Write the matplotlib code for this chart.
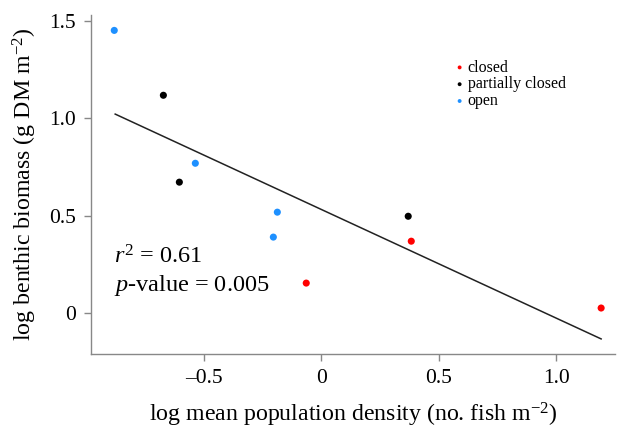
import numpy as np
import matplotlib
matplotlib.use("Agg")
import matplotlib.pyplot as plt

plt.rcParams['font.family'] = ['Liberation Serif', 'DejaVu Serif']
plt.rcParams['mathtext.fontset'] = 'custom'
plt.rcParams['mathtext.rm'] = 'Liberation Serif'
plt.rcParams['mathtext.it'] = 'Liberation Serif:italic'

# data
groups = ['closed', 'partially closed', 'open']
colors = {'closed': '#ff0000', 'partially closed': '#000000', 'open': '#1e90ff'}
x_closed = [-0.064, 0.383, 1.191]
y_closed = [0.154, 0.369, 0.026]
x_partial = [-0.672, -0.604, 0.370]
y_partial = [1.118, 0.672, 0.497]
x_open = [-0.881, -0.536, -0.187, -0.204]
y_open = [1.451, 0.769, 0.518, 0.390]

# regression line as drawn
fit_slope = -0.558
fit_intercept = 0.532
fit_x = [-0.877, 1.191]

xticks = [-0.5, 0, 0.5, 1.0]
xticklabels = ['\u20130.5', '0', '0.5', '1.0']
yticks = [0, 0.5, 1.0, 1.5]
yticklabels = ['0', '0.5', '1.0', '1.5']

fig = plt.figure(figsize=(6.21, 4.28), dpi=100)
ax = fig.add_axes([91/621, 1 - 354/428, (615-91)/621, (354-15)/428])

series = {'closed': (x_closed, y_closed),
          'partially closed': (x_partial, y_partial),
          'open': (x_open, y_open)}
for g in groups:
    xs, ys = series[g]
    ax.scatter(xs, ys, s=26, color=colors[g], edgecolors='none', label=g, zorder=3)

fx = np.array(fit_x)
ax.plot(fx, fit_intercept + fit_slope * fx, color='#222222', lw=1.1, zorder=2)

ax.set_xlim(-0.98, 1.25)
ax.set_ylim(-0.21, 1.53)
ax.set_xticks(xticks)
ax.set_xticklabels(xticklabels)
ax.set_yticks(yticks)
ax.set_yticklabels(yticklabels)

for s in ['top', 'right']:
    ax.spines[s].set_visible(False)
for s in ['left', 'bottom']:
    ax.spines[s].set_color('#888888')
    ax.spines[s].set_linewidth(1.0)
ax.tick_params(direction='out', length=5, width=1, color='#888888',
               labelsize=15.5, pad=6)

ax.set_xlabel('log mean population density (no. fish m$^{\u22122}$)', fontsize=17.2, labelpad=9)
ax.set_ylabel('log benthic biomass (g DM m$^{\u22122}$)', fontsize=17.2, labelpad=7)

ax.text(-0.88, 0.255, '$r^2$ = 0.61', fontsize=17.5)
ax.text(-0.88, 0.115, '$p$-value = 0.005', fontsize=17.5)

ax.legend(loc='upper left', bbox_to_anchor=(0.673, 0.892), frameon=False,
          fontsize=11.5, handletextpad=0.0, labelspacing=0.05,
          borderpad=0, handlelength=1.0, markerscale=0.55)

fig.savefig('out.png', dpi=100)
